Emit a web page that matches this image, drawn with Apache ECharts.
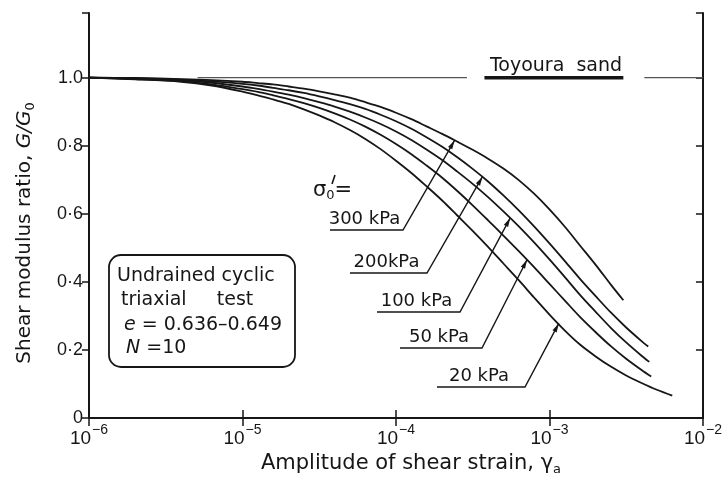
<!DOCTYPE html>
<html>
<head>
<meta charset="UTF-8">
<title>Shear modulus ratio - Toyoura sand</title>
<script src="https://cdn.jsdelivr.net/npm/echarts@6/dist/echarts.min.js"></script>
<style>
  html, body { margin: 0; padding: 0; background: #fff; }
  #main { width: 725px; height: 482px; }
</style>
</head>
<body>
<div id="main"></div>
<script>
  // G/G0 against shear strain amplitude
  var curve300 = [[1e-6, 1.0], [2e-6, 0.999], [3.98e-6, 0.996], [6.31e-6, 0.993], [1e-5, 0.988], [1.26e-5, 0.984],
    [1.58e-5, 0.980], [2e-5, 0.974], [2.51e-5, 0.968], [3.16e-5, 0.960], [3.98e-5, 0.951], [5.01e-5, 0.941],
    [6.31e-5, 0.928], [7.94e-5, 0.914], [1e-4, 0.897], [1.26e-4, 0.878], [1.58e-4, 0.857], [2e-4, 0.835],
    [2.51e-4, 0.812], [3.16e-4, 0.788], [3.98e-4, 0.762], [5.01e-4, 0.733], [6.31e-4, 0.699], [7.94e-4, 0.659],
    [1e-3, 0.613], [1.26e-3, 0.562], [1.58e-3, 0.507], [2e-3, 0.450], [2.51e-3, 0.392], [3.03e-3, 0.346]];
  var curve200 = [[1e-6, 1.0], [2e-6, 0.998], [3.98e-6, 0.994], [6.31e-6, 0.989], [1e-5, 0.982], [1.26e-5, 0.977],
    [1.58e-5, 0.970], [2e-5, 0.963], [2.51e-5, 0.955], [3.16e-5, 0.945], [3.98e-5, 0.934], [5.01e-5, 0.922],
    [6.31e-5, 0.908], [7.94e-5, 0.891], [1e-4, 0.872], [1.26e-4, 0.850], [1.58e-4, 0.825], [2e-4, 0.797],
    [2.51e-4, 0.766], [3.16e-4, 0.732], [3.98e-4, 0.695], [5.01e-4, 0.654], [6.31e-4, 0.610], [7.94e-4, 0.563],
    [1e-3, 0.513], [1.26e-3, 0.461], [1.58e-3, 0.409], [2e-3, 0.358], [2.51e-3, 0.310], [3.16e-3, 0.266],
    [3.98e-3, 0.226], [4.4e-3, 0.210]];
  var curve100 = [[1e-6, 1.0], [2e-6, 0.997], [3.98e-6, 0.992], [6.31e-6, 0.985], [1e-5, 0.974], [1.26e-5, 0.967],
    [1.58e-5, 0.959], [2e-5, 0.950], [2.51e-5, 0.940], [3.16e-5, 0.928], [3.98e-5, 0.915], [5.01e-5, 0.900],
    [6.31e-5, 0.883], [7.94e-5, 0.864], [1e-4, 0.842], [1.26e-4, 0.817], [1.58e-4, 0.789], [2e-4, 0.758],
    [2.51e-4, 0.724], [3.16e-4, 0.688], [3.98e-4, 0.649], [5.01e-4, 0.607], [6.31e-4, 0.563], [7.94e-4, 0.516],
    [1e-3, 0.466], [1.26e-3, 0.414], [1.58e-3, 0.362], [2e-3, 0.312], [2.51e-3, 0.265], [3.16e-3, 0.222],
    [3.98e-3, 0.183], [4.47e-3, 0.165]];
  var curve50 = [[1e-6, 1.0], [2e-6, 0.996], [3.98e-6, 0.990], [6.31e-6, 0.980], [1e-5, 0.966], [1.26e-5, 0.958],
    [1.58e-5, 0.948], [2e-5, 0.937], [2.51e-5, 0.925], [3.16e-5, 0.911], [3.98e-5, 0.895], [5.01e-5, 0.877],
    [6.31e-5, 0.856], [7.94e-5, 0.832], [1e-4, 0.805], [1.26e-4, 0.775], [1.58e-4, 0.742], [2e-4, 0.706],
    [2.51e-4, 0.667], [3.16e-4, 0.625], [3.98e-4, 0.581], [5.01e-4, 0.536], [6.31e-4, 0.490], [7.94e-4, 0.443],
    [1e-3, 0.394], [1.26e-3, 0.345], [1.58e-3, 0.297], [2e-3, 0.252], [2.51e-3, 0.211], [3.16e-3, 0.174],
    [3.98e-3, 0.141], [4.6e-3, 0.122]];
  var curve20 = [[1e-6, 1.0], [2e-6, 0.995], [3.98e-6, 0.988], [6.31e-6, 0.977], [1e-5, 0.959], [1.26e-5, 0.948],
    [1.58e-5, 0.936], [2e-5, 0.923], [2.51e-5, 0.907], [3.16e-5, 0.889], [3.98e-5, 0.869], [5.01e-5, 0.846],
    [6.31e-5, 0.820], [7.94e-5, 0.790], [1e-4, 0.756], [1.26e-4, 0.720], [1.58e-4, 0.681], [2e-4, 0.639],
    [2.51e-4, 0.595], [3.16e-4, 0.550], [3.98e-4, 0.503], [5.01e-4, 0.454], [6.31e-4, 0.405], [7.94e-4, 0.354],
    [1e-3, 0.304], [1.26e-3, 0.257], [1.58e-3, 0.216], [2e-3, 0.181], [2.51e-3, 0.151], [3.16e-3, 0.125],
    [3.98e-3, 0.103], [5.01e-3, 0.083], [6.31e-3, 0.066]];

  var curves = [curve300, curve200, curve100, curve50, curve20];
  var curveLabels = ['300 kPa', '200kPa', '100 kPa', '50 kPa', '20 kPa'];
  // where each leader arrow touches its curve (strain, G/G0)
  var arrowTips = [[2.41e-4, 0.816], [3.66e-4, 0.709], [5.55e-4, 0.588], [7.14e-4, 0.465], [1.15e-3, 0.278]];

  // line at G/G0 = 1.0, broken around the title
  var refSegments = [[5.1e-6, 2.9e-4], [4.15e-3, 1e-2]];
  var titleSegment = [3.77e-4, 3.03e-3];

  var yTickLabels = ['0', '0·2', '0·4', '0·6', '0·8', '1.0'];

  var INK = '#161616';
  var FONT = 'DejaVu Sans';

  // label layout in pixels: underline start x, end x, y
  var underlines = [[330, 403, 230], [350, 427, 273], [377, 460, 312], [400, 482, 348], [437, 525, 387]];

  var series = [];
  curves.forEach(function (c, i) {
    series.push({
      name: curveLabels[i], type: 'line', data: c, smooth: 0.3, symbol: 'none', z: 3,
      lineStyle: { color: INK, width: 1.8 }
    });
  });
  refSegments.forEach(function (s) {
    series.push({
      type: 'line', data: [[s[0], 1.0], [s[1], 1.0]], symbol: 'none', silent: true,
      lineStyle: { color: '#555', width: 1.4 }
    });
  });
  series.push({
    type: 'line', data: [[titleSegment[0], 1.0], [titleSegment[1], 1.0]], symbol: 'none', silent: true,
    lineStyle: { color: INK, width: 3.5 }
  });

  var axisLine = { show: true, lineStyle: { color: INK, width: 2 } };

  var option = {
    backgroundColor: '#fff',
    animation: false,
    grid: { left: 89, right: 18, top: 13, bottom: 64, containLabel: false },
    xAxis: [{
      type: 'log', logBase: 10, min: 1e-6, max: 1e-2, position: 'bottom',
      axisLine: axisLine,
      axisTick: { show: true, inside: true, length: 8, lineStyle: { color: INK, width: 1.5 } },
      minorTick: { show: false }, splitLine: { show: false },
      axisLabel: {
        margin: 5,
        formatter: function (v) {
          var e = Math.round(Math.log10(v));
          return '{b|10}{s|' + (e < 0 ? '−' : '') + Math.abs(e) + '}';
        },
        rich: {
          b: { fontFamily: 'Liberation Sans', fontSize: 19, color: INK, verticalAlign: 'bottom', lineHeight: 25 },
          s: { fontFamily: 'Liberation Sans', fontSize: 14, color: INK, verticalAlign: 'top', lineHeight: 25, padding: [0, 0, 0, 1] }
        }
      }
    }, {
      type: 'log', logBase: 10, min: 1e-6, max: 1e-2, position: 'top',
      axisLine: axisLine,
      axisTick: { show: true, inside: true, length: 8, lineStyle: { color: INK, width: 1.5 } },
      minorTick: { show: false }, splitLine: { show: false }, axisLabel: { show: false }
    }],
    yAxis: [{
      type: 'value', min: 0, max: 1.19, interval: 0.2, position: 'left',
      axisLine: axisLine,
      axisTick: { show: true, inside: false, length: 7, lineStyle: { color: INK, width: 1.5 } },
      splitLine: { show: false },
      axisLabel: {
        margin: 6, color: INK, fontFamily: 'Liberation Sans', fontSize: 18,
        formatter: function (v) {
          var i = Math.round(v / 0.2);
          if (Math.abs(v - i * 0.2) > 1e-6) return '';
          return yTickLabels[i] || '';
        }
      }
    }, {
      type: 'value', min: 0, max: 1.19, interval: 0.2, position: 'right',
      axisLine: axisLine,
      axisTick: { show: true, inside: true, length: 7, lineStyle: { color: INK, width: 1.5 } },
      splitLine: { show: false }, axisLabel: { show: false }
    }],
    series: series
  };

  var chart = echarts.init(document.getElementById('main'));
  chart.setOption(option);

  function toPx(p) {
    return chart.convertToPixel({ gridIndex: 0 }, p);
  }

  var g = [];
  var lineStyle = { stroke: INK, lineWidth: 1.4, fill: null };

  // leaders with underlined pressure labels
  underlines.forEach(function (u, i) {
    var tip = toPx(arrowTips[i]);
    g.push({ type: 'polyline', shape: { points: [[u[0], u[2]], [u[1], u[2]], tip] }, style: lineStyle, z: 10 });
    var dx = tip[0] - u[1], dy = tip[1] - u[2];
    var len = Math.sqrt(dx * dx + dy * dy);
    var ux = dx / len, uy = dy / len;
    var bx = tip[0] - ux * 9, by = tip[1] - uy * 9;
    g.push({
      type: 'polygon', z: 11,
      shape: { points: [tip, [bx - uy * 2.4, by + ux * 2.4], [bx + uy * 2.4, by - ux * 2.4]] },
      style: { fill: INK }
    });
    g.push({
      type: 'text', x: (u[0] + u[1]) / 2 - 2, y: u[2] - 2, z: 11,
      style: { text: curveLabels[i], font: '18px "' + FONT + '"', fill: INK, textAlign: 'center', textVerticalAlign: 'bottom' }
    });
  });

  // sigma'0 =
  g.push({
    type: 'text', x: 313, y: 191, z: 11,
    style: {
      text: '{b|σ}{s|0}{b|=}', textAlign: 'left', textVerticalAlign: 'middle',
      rich: {
        b: { fontFamily: FONT, fontSize: 21, fill: INK },
        s: { fontFamily: FONT, fontSize: 13, fill: INK, padding: [10, 0, 0, 0] }
      }
    }
  });
  g.push({ type: 'polyline', shape: { points: [[335, 175], [332, 184]] }, style: { stroke: INK, lineWidth: 1.6, fill: null }, z: 11 });

  // test conditions box
  g.push({ type: 'rect', shape: { x: 109, y: 255, width: 186, height: 112, r: 12 }, style: { stroke: INK, lineWidth: 1.8, fill: '#fff' }, z: 10 });
  var boxLines = ['Undrained cyclic', 'triaxial     test', '{i|e} = 0.636–0.649', '{i|N} =10'];
  var boxX = [117, 121, 124, 126];
  var boxY = [276, 300, 325, 348];
  boxLines.forEach(function (t, i) {
    g.push({
      type: 'text', x: boxX[i], y: boxY[i], z: 11,
      style: {
        text: t, font: '19px "' + FONT + '"', fill: INK, textAlign: 'left', textVerticalAlign: 'middle',
        rich: { i: { fontFamily: FONT, fontSize: 19, fontStyle: 'italic', fill: INK } }
      }
    });
  });

  // Toyoura sand title
  g.push({
    type: 'text', x: 556, y: 66, z: 11,
    style: { text: 'Toyoura  sand', font: '19px "' + FONT + '"', fill: INK, textAlign: 'center', textVerticalAlign: 'middle' }
  });

  // axis titles
  g.push({
    type: 'text', x: 411, y: 464, z: 11,
    style: {
      text: '{t|Amplitude of shear strain, γ}{s|a}', textAlign: 'center', textVerticalAlign: 'middle',
      rich: {
        t: { fontFamily: FONT, fontSize: 21, fill: INK },
        s: { fontFamily: FONT, fontSize: 13, fill: INK, padding: [12, 0, 0, 0] }
      }
    }
  });
  g.push({
    type: 'text', x: 25, y: 233, rotation: Math.PI / 2, z: 11,
    style: {
      text: '{t|Shear modulus ratio, }{i|G/G}{s|0}', textAlign: 'center', textVerticalAlign: 'middle',
      rich: {
        t: { fontFamily: FONT, fontSize: 20, fill: INK },
        i: { fontFamily: FONT, fontSize: 20, fontStyle: 'italic', fill: INK },
        s: { fontFamily: FONT, fontSize: 13, fill: INK, padding: [12, 0, 0, 0] }
      }
    }
  });

  chart.setOption({ graphic: g });
</script>
</body>
</html>
